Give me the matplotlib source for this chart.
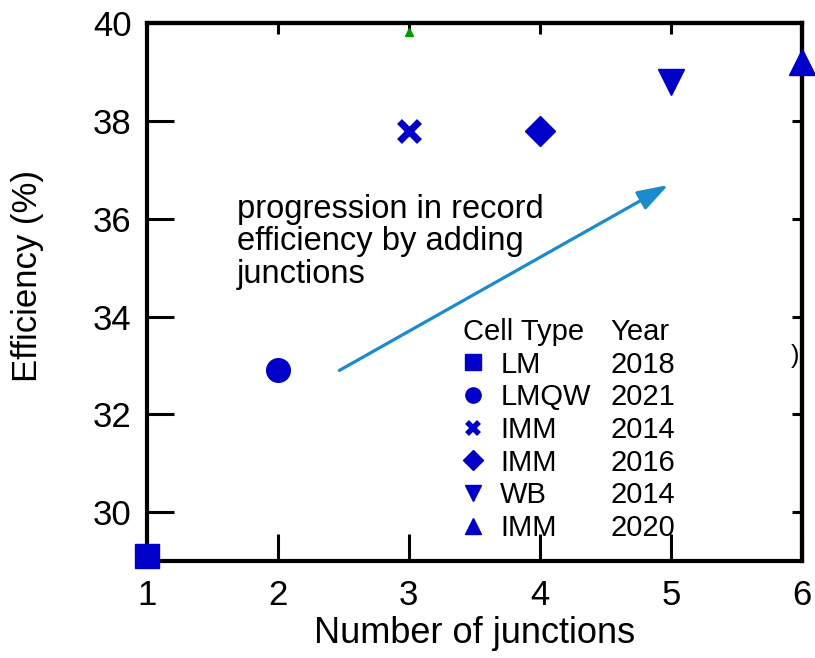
import matplotlib
matplotlib.use("Agg")
import matplotlib.pyplot as plt
from matplotlib.lines import Line2D

plt.rcParams['font.family'] = ['Liberation Sans', 'DejaVu Sans']

# record efficiencies vs number of junctions
junctions = [1, 2, 3, 4, 5, 6]
efficiency = [29.1, 32.9, 37.8, 37.8, 38.8, 39.2]
markers = ['s', 'o', 'x', 'D', 'v', '^']
sizes = [17, 17, 14, 15, 19, 19]
cell_types = ['LM', 'LMQW', 'IMM', 'IMM', 'WB', 'IMM']
years = ['2018', '2021', '2014', '2016', '2014', '2020']

blue = '#0000c8'
arrow_col = '#1a8bcc'

fig = plt.figure(figsize=(8.15, 6.58), dpi=100)
ax = fig.add_axes([0.180, 0.147, 0.804, 0.818])

for x, y, m, s in zip(junctions, efficiency, markers, sizes):
    if m == 'x':
        ax.plot(x, y, marker=m, ms=s, mew=5, color=blue, ls='', clip_on=False, zorder=5)
    else:
        ax.plot(x, y, marker=m, ms=s, color=blue, mec=blue, ls='', clip_on=False, zorder=5)

# stray marks near the frame
ax.plot(3, 39.82, marker='^', ms=6, color='#009900', ls='', zorder=1)
ax.text(5.98, 33.2, ')', fontsize=18, ha='right', va='center')

ax.annotate('', xy=(4.98, 36.69), xytext=(2.47, 32.90),
            arrowprops=dict(arrowstyle='-|>,head_length=0.85,head_width=0.28',
                            color=arrow_col, lw=2.3, mutation_scale=22,
                            shrinkA=0, shrinkB=0))
ax.text(1.69, 36.5, 'progression in record\nefficiency by adding\njunctions',
        fontsize=23.5, ha='left', va='top', linespacing=1.05)

ax.set_xlim(1, 6)
ax.set_ylim(29, 40)
ax.set_xticks(junctions)
ax.set_yticks([30, 32, 34, 36, 38, 40])
ax.tick_params(direction='in', length=19.5, width=2.2, labelsize=25)
ax.tick_params(axis='x', pad=13)
ax.tick_params(axis='y', pad=11)
for sp in ax.spines.values():
    sp.set_linewidth(3)

top = ax.secondary_xaxis('top')
top.set_xticks(junctions)
top.tick_params(direction='in', length=8, width=2.2, labeltop=False)
top.spines['top'].set_linewidth(3)
right = ax.secondary_yaxis('right')
right.set_yticks([30, 32, 34, 36, 38, 40])
right.tick_params(direction='in', length=7, width=2.2, labelright=False)
right.spines['right'].set_linewidth(3)

ax.set_xlabel('Number of junctions', fontsize=26, labelpad=3)
ax.set_ylabel('Efficiency (%)', fontsize=25)
ax.yaxis.set_label_coords(-0.157, 0.53)

# two-column legend: cell type with marker, and year
leg_sizes = [11, 11, 9, 10, 12, 12]
handles = []
for m, s in zip(markers, leg_sizes):
    if m == 'x':
        handles.append(Line2D([], [], marker=m, ms=s, mew=4, color=blue, ls=''))
    else:
        handles.append(Line2D([], [], marker=m, ms=s, color=blue, ls=''))
leg_kw = dict(loc='upper left', frameon=False, fontsize=21, title_fontsize=21,
              borderpad=0, borderaxespad=0, labelspacing=0.16, alignment='left')
leg1 = ax.legend(handles, cell_types, title='Cell Type',
                 bbox_to_anchor=(0.483, 0.452),
                 handlelength=0.65, handletextpad=0.62, **leg_kw)
ax.add_artist(leg1)
blank = [Line2D([], [], ls='', marker='') for _ in years]
ax.legend(blank, years, title='Year', bbox_to_anchor=(0.708, 0.452),
          handlelength=0, handletextpad=0, **leg_kw)

fig.savefig('out.png', dpi=100)
